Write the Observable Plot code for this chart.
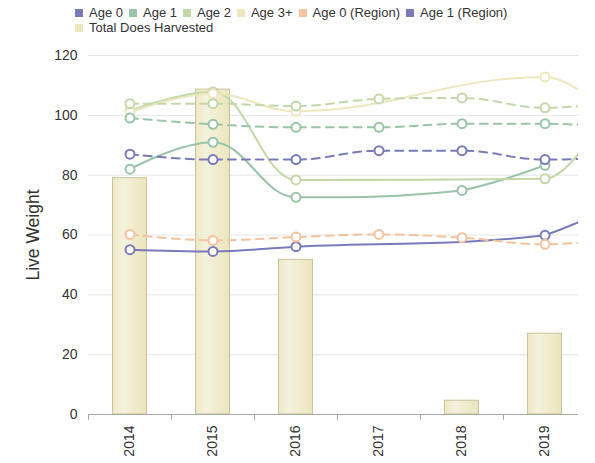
<!DOCTYPE html>
<html>
<head>
<meta charset="utf-8">
<script src="https://cdn.jsdelivr.net/npm/d3@7"></script>
<script src="https://cdn.jsdelivr.net/npm/@observablehq/plot@0.6"></script>
<style>
  html, body { margin: 0; padding: 0; background: #fff; }
  body { width: 595px; height: 463px; overflow: hidden; font-family: "Liberation Sans", Arial, sans-serif; }
  #legend { height: 40px; box-sizing: border-box; padding: 5px 0 0 75px; width: 540px; display: flex; flex-wrap: wrap; align-content: flex-start; font-size: 13px; line-height: 15px; color: #333; }
  .item { display: inline-flex; align-items: center; height: 15px; margin-right: 6px; white-space: nowrap; }
  .sw { width: 8px; height: 8px; margin-right: 6px; }
  .brk { flex-basis: 100%; height: 0; }
</style>
</head>
<body>
<div id="legend"></div>
<div id="chart"></div>
<script>
// ---- data ----
const years = ["2014", "2015", "2016", "2017", "2018", "2019", "2020"];
const labelYears = ["2014", "2015", "2016", "2017", "2018", "2019"];
const age0 = [55.1, 54.5, 56.1, null, null, 59.9, 72];
const age1 = [82.0, 91.0, 72.6, null, 74.9, 83.3, null];
const age2 = [101.5, 107.8, 78.4, null, null, 78.8, 115];
const age3 = [101.0, 107.2, 101.4, null, null, 112.8, 94];
const age0Region = [60.2, 58.2, 59.3, 60.2, 59.1, 56.9, 59];
const age1Region = [87.0, 85.2, 85.2, 88.2, 88.2, 85.2, 86];
const age2Region = [99.1, 97.0, 96.0, 96.0, 97.2, 97.2, 95.5];
const age3Region = [103.9, 103.9, 103.1, 105.5, 105.8, 102.5, 105];
const totalHarvested = [79.0, 108.6, 51.7, null, 4.6, 27.0, null];
const yTicks = [0, 20, 40, 60, 80, 100, 120];
const gridTicks = [20, 40, 60, 80, 100, 120];

const seriesNames = ["Age 0", "Age 1", "Age 2", "Age 3+", "Age 0 (Region)", "Age 1 (Region)", "Age 2 (Region)", "Age 3+ (Region)"];
const seriesValues = [age0, age1, age2, age3, age0Region, age1Region, age2Region, age3Region];
const seriesColors = ["#7a7abb", "#99c4aa", "#c3d7a8", "#ece7bc", "#f4c29d", "#7a7abb", "#99c4aa", "#c3d7a8"];
const seriesDashed = [false, false, false, false, true, true, true, true];
const legendNames = ["Age 0", "Age 1", "Age 2", "Age 3+", "Age 0 (Region)", "Age 1 (Region)", "Total Does Harvested"];
const legendColors = ["#7a7abb", "#99c4aa", "#c3d7a8", "#ece7bc", "#f4c29d", "#7a7abb", "#ece7bc"];

// ---- Highcharts-style spline curve ----
function HCSpline(context) { this._context = context; }
HCSpline.prototype = {
  areaStart() {}, areaEnd() {},
  lineStart() { this._pts = []; },
  point(x, y) { this._pts.push({x: +x, y: +y}); },
  lineEnd() {
    const p = this._pts, ctx = this._context, s = 1.5, den = 2.5;
    if (!p.length) return;
    ctx.moveTo(p[0].x, p[0].y);
    for (let i = 1; i < p.length; i++) {
      const pt = p[i], last = p[i - 1], next = p[i + 1];
      let lcx, lcy, rcx, rcy;
      if (next) {
        lcx = (s * pt.x + last.x) / den; lcy = (s * pt.y + last.y) / den;
        rcx = (s * pt.x + next.x) / den; rcy = (s * pt.y + next.y) / den;
        let corr = 0;
        if (rcx !== lcx) corr = ((rcy - lcy) * (rcx - pt.x)) / (rcx - lcx) + pt.y - rcy;
        lcy += corr; rcy += corr;
        if (lcy > last.y && lcy > pt.y) { lcy = Math.max(last.y, pt.y); rcy = 2 * pt.y - lcy; }
        else if (lcy < last.y && lcy < pt.y) { lcy = Math.min(last.y, pt.y); rcy = 2 * pt.y - lcy; }
        if (rcy > next.y && rcy > pt.y) { rcy = Math.max(next.y, pt.y); lcy = 2 * pt.y - rcy; }
        else if (rcy < next.y && rcy < pt.y) { rcy = Math.min(next.y, pt.y); lcy = 2 * pt.y - rcy; }
        pt.rcx = rcx; pt.rcy = rcy;
      }
      ctx.bezierCurveTo(
        last.rcx !== undefined ? last.rcx : last.x,
        last.rcy !== undefined ? last.rcy : last.y,
        lcx !== undefined ? lcx : pt.x,
        lcy !== undefined ? lcy : pt.y,
        pt.x, pt.y);
    }
  }
};
const curveHC = (ctx) => new HCSpline(ctx);

// ---- legend ----
const legend = document.getElementById("legend");
legendNames.forEach((n, i) => {
  const it = document.createElement("span");
  it.className = "item";
  const sw = document.createElement("span");
  sw.className = "sw";
  sw.style.background = legendColors[i];
  it.appendChild(sw);
  it.appendChild(document.createTextNode(n));
  legend.appendChild(it);
  if (i === 5) { const br = document.createElement("div"); br.className = "brk"; legend.appendChild(br); }
});

// ---- tables ----
const bars = years.map((y, i) => ({year: y, v: totalHarvested[i]})).filter(d => d.v != null);
const seriesData = seriesValues.map(vals => years.map((y, i) => ({year: y, v: vals[i]})).filter(d => d.v != null));

const marks = [
  Plot.ruleY(gridTicks, {stroke: "#e6e6e6", strokeWidth: 1}),
  Plot.barY(bars, {x: "year", y: "v", insetLeft: 24.5, insetRight: 24.5, fill: "url(#barGrad)", stroke: "#c9c39c", strokeWidth: 1}),
  Plot.ruleY([0], {stroke: "#a8a8a8", strokeWidth: 1}),
  Plot.ruleX(years, {x: d => d, dx: -41.5, y1: 0, y2: 0, insetBottom: -6, stroke: "#a8a8a8", strokeWidth: 1}),
  Plot.axisY(yTicks, {tickSize: 0, tickPadding: 11, fontSize: 14, fill: "#333", label: null}),
  Plot.axisX(labelYears, {tickSize: 0, tickPadding: 11, tickRotate: -90, fontSize: 14, fill: "#333", label: null}),
  Plot.text(["Live Weight"], {frameAnchor: "left", textAnchor: "middle", rotate: -90, dx: -55, fontSize: 17.5, fill: "#333"})
];
seriesData.forEach((d, i) => {
  marks.push(Plot.line(d, {x: "year", y: "v", stroke: seriesColors[i], strokeWidth: 2, curve: curveHC,
    strokeDasharray: seriesDashed[i] ? "8,6" : null}));
  marks.push(Plot.dot(d, {x: "year", y: "v", r: 4.5, fill: "white", stroke: seriesColors[i], strokeWidth: 2}));
});

const chart = Plot.plot({
  width: 578,
  height: 423,
  marginTop: 15,
  marginBottom: 49,
  marginLeft: 88,
  marginRight: 0,
  style: {fontFamily: "'Liberation Sans', Arial, sans-serif", fontSize: "14px", overflow: "hidden", background: "white"},
  x: {type: "band", domain: years, range: [88, 669], padding: 0, axis: null},
  y: {domain: [0, 120], axis: null},
  marks
});

const defs = d3.select(chart).insert("defs", ":first-child");
const g = defs.append("linearGradient").attr("id", "barGrad").attr("x1", "0").attr("x2", "1").attr("y1", "0").attr("y2", "0");
g.append("stop").attr("offset", "0").attr("stop-color", "#ede8c4");
g.append("stop").attr("offset", "0.3").attr("stop-color", "#f5f2dd");
g.append("stop").attr("offset", "1").attr("stop-color", "#ebe5bd");

document.getElementById("chart").appendChild(chart);
</script>
</body>
</html>
